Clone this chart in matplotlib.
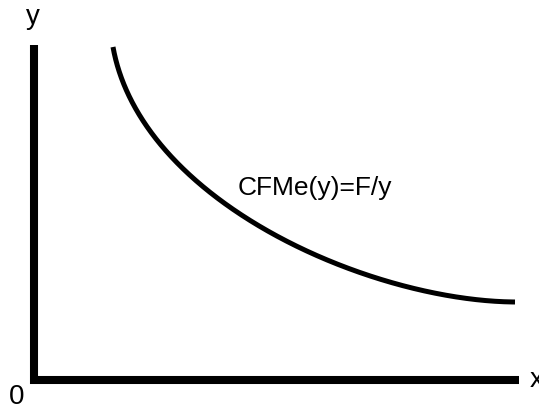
import numpy as np
import matplotlib.pyplot as plt

# points (origin at the axes corner, pixel-like units)
curve_x = [79, 83, 88, 96, 109, 126, 146, 166, 186, 206, 226, 246, 266,
           286, 306, 326, 346, 366, 386, 406, 426, 446, 481]
curve_y = [333, 313, 293, 273, 257, 235, 215, 197, 182, 167, 154, 143, 133,
           125, 117, 108, 101, 94, 88, 84, 80, 78, 78]
x_axis_end = 485
y_axis_top = 335
label_curve = "CFMe(y)=F/y"

plt.rcParams['font.family'] = ['Liberation Sans', 'DejaVu Sans']


def bezier_fit(xs, ys, iters=8):
    # least-squares cubic Bezier through the read points, ends fixed
    p = np.column_stack([xs, ys]).astype(float)
    d = np.r_[0, np.cumsum(np.hypot(*np.diff(p, axis=0).T))]
    t = d / d[-1]
    p0, p3 = p[0], p[-1]
    for _ in range(iters):
        b0 = (1 - t) ** 3
        b1 = 3 * t * (1 - t) ** 2
        b2 = 3 * t ** 2 * (1 - t)
        b3 = t ** 3
        A = np.column_stack([b1, b2])
        rhs = p - np.outer(b0, p0) - np.outer(b3, p3)
        ctrl, *_ = np.linalg.lstsq(A, rhs, rcond=None)
        p1, p2 = ctrl
        ts = np.linspace(0, 1, 2000)
        curve = (np.outer((1 - ts) ** 3, p0) + np.outer(3 * ts * (1 - ts) ** 2, p1)
                 + np.outer(3 * ts ** 2 * (1 - ts), p2) + np.outer(ts ** 3, p3))
        idx = np.argmin(((p[:, None, :] - curve[None, :, :]) ** 2).sum(-1), axis=1)
        t = ts[idx]
        t[0], t[-1] = 0, 1
    return curve[:, 0], curve[:, 1]


fig = plt.figure(figsize=(5.39, 4.07), dpi=100)
ax = fig.add_axes([0, 0, 1, 1])
ax.set_xlim(-34, 505)
ax.set_ylim(-27, 380)
ax.axis('off')

# axes
ax.plot([-4, x_axis_end], [0, 0], color='black', lw=5.8, solid_capstyle='butt')
ax.plot([0, 0], [-4, y_axis_top], color='black', lw=5.8, solid_capstyle='butt')

cx, cy = bezier_fit(curve_x, curve_y)
ax.plot(cx, cy, color='black', lw=3.6, solid_capstyle='butt')

ax.text(204, 185, label_curve, fontsize=19, ha='left', va='baseline')
ax.text(-1, 356, "y", fontsize=20, ha='center', va='baseline')
ax.text(496, 0, "x", fontsize=20, ha='left', va='center')
ax.text(-17, -24, "0", fontsize=20, ha='center', va='baseline')

fig.savefig('out.png', dpi=100)
